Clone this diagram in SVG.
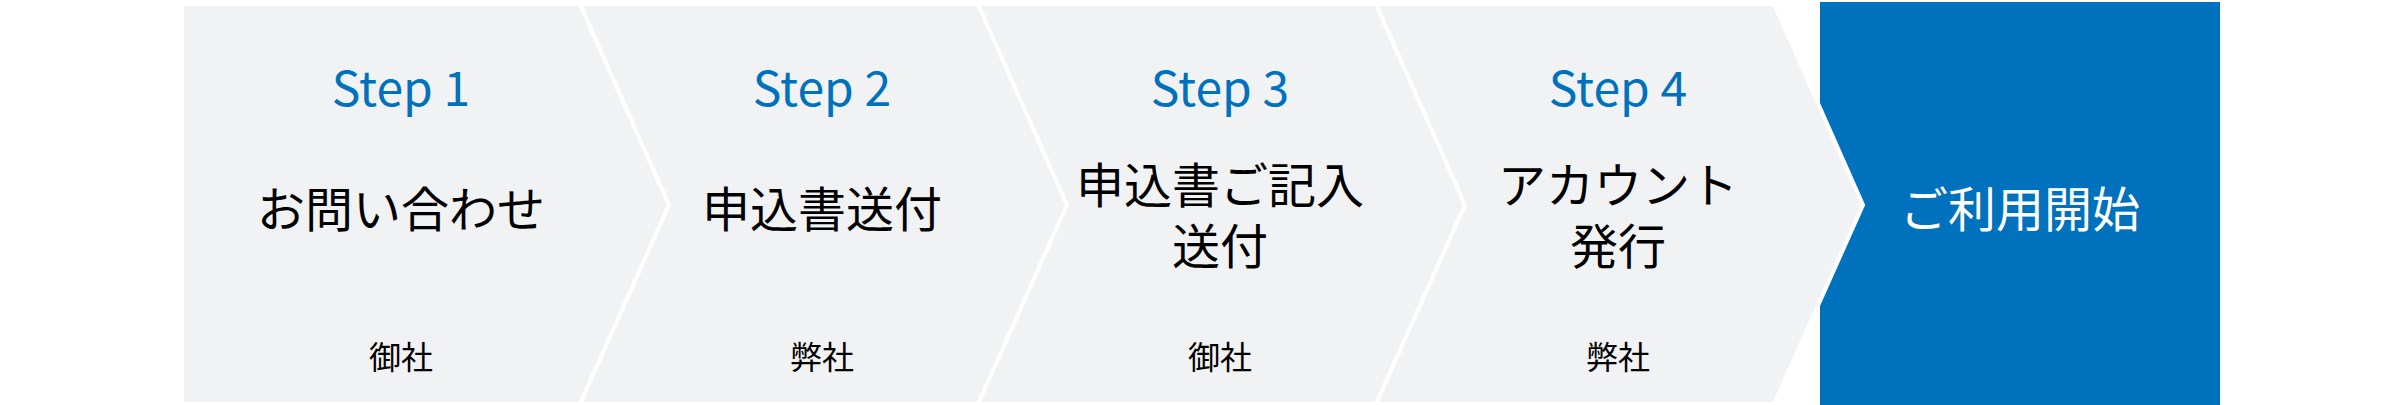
<svg xmlns="http://www.w3.org/2000/svg" width="2400" height="405" viewBox="0 0 2400 405">
<style>
.panel{fill:#f1f2f4;stroke:#ffffff;stroke-width:4;stroke-linejoin:miter;stroke-miterlimit:10}
.final{fill:#0071bc}
text{font-family:"Noto Sans CJK JP","Noto Sans",sans-serif;text-anchor:middle}
.step{font-size:48px;fill:#0071bc}
.title{font-size:48px;fill:#000000}
.who{font-size:32px;fill:#000000}
.ftitle{font-size:48px;fill:#ffffff}
</style>
<rect width="2400" height="405" fill="#ffffff"/>
<g id="final">
<rect class="final" x="1820" y="2" width="400" height="403"/>
<text class="ftitle" x="2020" y="227">ご利用開始</text>
</g>
<g id="step1">
<polygon class="panel" points="182,4 580,4 669,205 580,404 182,404"/>
<text class="step" x="401" y="106">Step 1</text>
<text class="title" x="401" y="227">お問い合わせ</text>
<text class="who" x="401" y="369">御社</text>
</g>
<g id="step2">
<polygon class="panel" points="580,4 978,4 1067,205 978,404 580,404 669,205"/>
<text class="step" x="822" y="106">Step 2</text>
<text class="title" x="822" y="227">申込書送付</text>
<text class="who" x="822" y="369">弊社</text>
</g>
<g id="step3">
<polygon class="panel" points="978,4 1376,4 1465,205 1376,404 978,404 1067,205"/>
<text class="step" x="1220" y="106">Step 3</text>
<text class="title" x="1220" y="203"><tspan x="1220" y="203">申込書ご記入</tspan><tspan x="1220" y="264">送付</tspan></text>
<text class="who" x="1220" y="369">御社</text>
</g>
<g id="step4">
<polygon class="panel" points="1376,4 1774,4 1863,205 1774,404 1376,404 1465,205"/>
<text class="step" x="1618" y="106">Step 4</text>
<text class="title" x="1618" y="203"><tspan x="1618" y="203">アカウント</tspan><tspan x="1618" y="264">発行</tspan></text>
<text class="who" x="1618" y="369">弊社</text>
</g>
<g id="connectors"/>
</svg>
